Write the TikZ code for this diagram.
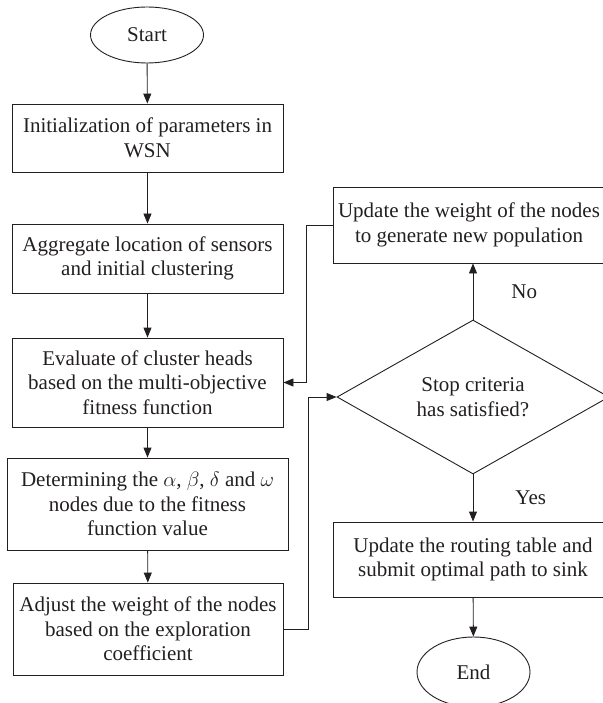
\documentclass[tikz,border=0pt]{standalone}
\usepackage{fontspec}
\setmainfont{Liberation Serif}
\usetikzlibrary{arrows.meta,shapes.geometric,positioning}
\definecolor{ink}{RGB}{35,31,32}
\begin{document}
\begin{tikzpicture}[x=1pt,y=-1pt,
        every node/.style={text=ink,font=\fontsize{21}{24.5}\selectfont},
        box/.style={draw=ink,line width=0.9pt,inner sep=0pt,align=center,minimum width=271pt},
        term/.style={draw=ink,line width=0.9pt,ellipse,inner sep=0pt,minimum width=113pt},
        decide/.style={draw=ink,line width=0.9pt,diamond,inner sep=0pt,align=center,minimum width=272pt,minimum height=154pt},
        arr/.style={draw=ink,line width=0.9pt,-{Triangle[length=10pt,width=8pt]}},
        lbl/.style={inner sep=0pt}]
        \useasboundingbox (0,0) rectangle (602,703);

        %left column
        \node[term,minimum height=56pt] (start) at (147,35) {Start};
        \node[box,minimum height=68pt] (init) at (147.5,138) {Initialization of parameters in\\WSN};
        \node[box,minimum height=69pt] (aggr) at (147.5,258.5) {Aggregate location of sensors\\and initial clustering};
        \node[box,minimum height=89pt] (eval) at (147.5,382.5) {Evaluate of cluster heads\\based on the multi-objective\\fitness function};
        \node[box,minimum width=281pt,minimum height=92pt] (det) at (147.5,504) {Determining the $\alpha$, $\beta$, $\delta$ and $\omega$\\nodes due to the fitness\\function value};
        \node[box,minimum width=270pt,minimum height=92pt] (adj) at (148,629) {Adjust the weight of the nodes\\based on the exploration\\coefficient};

        %right column
        \node[box,minimum width=272pt,minimum height=76pt] (upd) at (469,225) {Update the weight of the nodes\\to generate new population};
        \node[decide] (crit) at (473,397) {Stop criteria\\has satisfied?};
        \node[box,minimum width=280pt,minimum height=75pt] (route) at (473,559.5) {Update the routing table and\\submit optimal path to sink};
        \node[term,minimum height=70pt] (end) at (473.5,672) {End};

        \draw[arr] (start) -- (init);
        \draw[arr] (init) -- (aggr);
        \draw[arr] (aggr) -- (eval);
        \draw[arr] (eval) -- (det);
        \draw[arr] (det) -- (adj);
        \draw[arr] (adj.east) -- ++(25,0) |- (crit.west);
        \draw[arr] (crit.north) -- node[lbl,right=38pt] {No} (crit.north |- upd.south);
        \draw[arr] (upd.west) -- ++(-26,0) |- (eval.east);
        \draw[arr] (crit.south) -- node[lbl,right=42pt] {Yes} (route.north);
        \draw[arr] (route) -- (end);
\end{tikzpicture}
\end{document}
